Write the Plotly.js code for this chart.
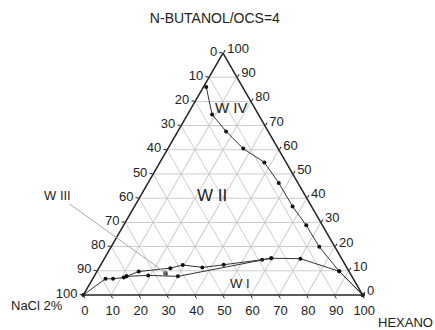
<!DOCTYPE html>
<html><head><meta charset="utf-8">
<script src="https://cdn.plot.ly/plotly-3.0.1.min.js"></script>
<style>html,body{margin:0;padding:0;background:#fff}#chart{width:435px;height:330px}</style>
</head><body><div id="chart"></div>
<script>
// Compositions in % — a: N-BUTANOL/OCS (top), b: NaCl 2% (bottom-left), c: HEXANO (bottom-right)
const upper_a = [86, 74.6, 67.6, 60.5, 54.8, 46.3, 36.6, 28.8, 19.9, 9.8, 0];
const upper_b = [13, 16.6, 15.1, 12.5, 7.8, 6.9, 6.8, 5.8, 5.6, 3.5, 0];
const upper_c = [1, 8.8, 17.3, 27.0, 37.4, 46.8, 56.6, 65.4, 74.5, 86.7, 100];

const lowerA_a = [0, 6.7, 6.7, 7.2, 7.7, 9.7, 11.1, 12.4, 11.4, 12.5, 14.6, 15.2, 15.0, 9.8, 0];
const lowerA_b = [100, 88.7, 86.0, 81.9, 80.7, 75.3, 63.3, 58.2, 51.7, 43.5, 28.7, 25.1, 14.8, 3.5, 0];
const lowerA_c = [0, 4.6, 7.3, 10.9, 11.6, 15.0, 25.6, 29.4, 36.9, 44.0, 56.7, 59.7, 70.2, 86.7, 100];

const lowerB_a = [7.7, 8.1, 7.7, 15.2];
const lowerB_b = [80.7, 72.7, 62.3, 25.1];
const lowerB_c = [11.6, 19.2, 30.0, 59.7];

const w3_a = [9.0, 7.9];
const w3_b = [66.1, 65.6];
const w3_c = [24.9, 26.5];

const tickValues = [0, 10, 20, 30, 40, 50, 60, 70, 80, 90, 100];
const tickLabels = tickValues.map(v => String(100 - v));

const regionLabels = ['W IV', 'W II', 'W I', 'W III'];
const titleText = 'N-BUTANOL/OCS=4';
const compB = 'NaCl 2%';
const compC = 'HEXANO';

// plot-area geometry
const M = {l: 83, r: 72, t: 53, b: 35};
const PW = 435 - M.l - M.r, PH = 330 - M.t - M.b;
const px = x => (x - M.l) / PW;
const py = y => (330 - M.b - y) / PH;

const lineStyle = {color: '#333', width: 1};
const mk = {color: '#111', size: 4};

const traces = [
  {type: 'scatterternary', mode: 'lines+markers', a: upper_a, b: upper_b, c: upper_c, line: lineStyle, marker: mk, cliponaxis: false},
  {type: 'scatterternary', mode: 'lines+markers', a: lowerA_a, b: lowerA_b, c: lowerA_c, line: lineStyle, marker: mk, cliponaxis: false},
  {type: 'scatterternary', mode: 'lines+markers', a: lowerB_a, b: lowerB_b, c: lowerB_c, line: lineStyle, marker: mk, cliponaxis: false},
  {type: 'scatterternary', mode: 'lines+markers', a: w3_a, b: w3_b, c: w3_c, line: lineStyle, marker: {color: '#111', size: [4, 0]}, cliponaxis: false}
];

const axisBase = {
  tickmode: 'array', tickvals: tickValues, ticktext: tickLabels,
  ticks: 'outside', ticklen: 3, tickwidth: 1, tickcolor: '#222',
  tickfont: {family: 'Liberation Sans, Arial, sans-serif', size: 13, color: '#222'},
  showline: true, linecolor: '#222', linewidth: 1.5,
  showgrid: true, gridcolor: '#cccccc', gridwidth: 1,
  min: 0, title: {text: ''}
};

const txt = (x, y, t, s) => ({xref: 'paper', yref: 'paper', x: px(x), y: py(y), xanchor: 'center', yanchor: 'middle', text: t, showarrow: false, font: {size: s, color: '#222'}});

const layout = {
  width: 435, height: 330,
  margin: M,
  paper_bgcolor: '#fff',
  showlegend: false,
  font: {family: 'Liberation Sans, Arial, sans-serif', color: '#222'},
  title: {text: titleText, font: {size: 14, color: '#222'}, x: 0.494, xanchor: 'center', y: 1 - 18 / 330, yanchor: 'middle', xref: 'container', yref: 'container'},
  ternary: {
    sum: 100,
    bgcolor: '#fff',
    aaxis: Object.assign({}, axisBase),
    baxis: Object.assign({}, axisBase),
    caxis: Object.assign({}, axisBase)
  },
  annotations: [
    txt(231, 107.5, regionLabels[0], 15),
    txt(211.7, 195, regionLabels[1], 17),
    txt(240, 283.5, regionLabels[2], 13),
    {xref: 'paper', yref: 'paper', x: px(165.5), y: py(272.8), ax: 57 - 165.5, ay: 195 - 272.8, text: regionLabels[3], showarrow: true, arrowhead: 0, arrowwidth: 1, arrowcolor: '#aaa', standoff: 0, font: {size: 13, color: '#222'}},
    txt(37, 305, compB, 13),
    txt(405, 322, compC, 13)
  ]
};

Plotly.newPlot('chart', traces, layout, {displayModeBar: false, staticPlot: true});
</script>
</body></html>
